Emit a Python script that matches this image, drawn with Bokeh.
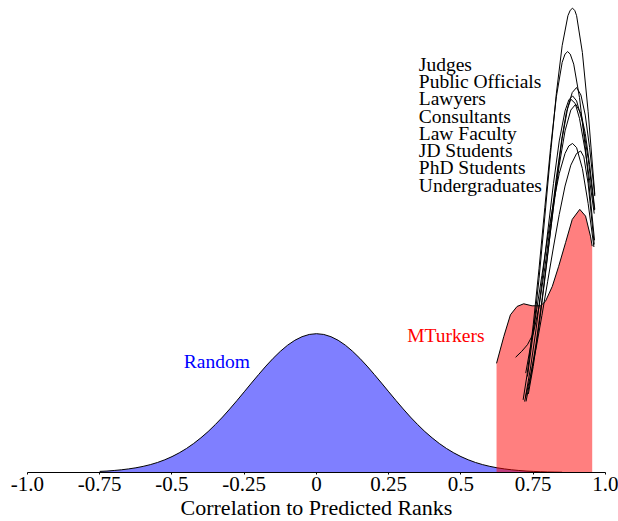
from bokeh.plotting import figure
from bokeh.models import Range1d, FixedTicker
from bokeh.embed import file_html
from bokeh.resources import INLINE
from bokeh.core.properties import value

FONT = "Liberation Serif"

# ---- data ----
tick_values = [-1.0, -0.75, -0.5, -0.25, 0.0, 0.25, 0.5, 0.75, 1.0]
tick_labels = ["-1.0", "-0.75", "-0.5", "-0.25", "0", "0.25", "0.5", "0.75", "1.0"]
x_title = "Correlation to Predicted Ranks"

random_x = [-0.75, -0.725, -0.70, -0.675, -0.65, -0.625, -0.60, -0.575, -0.55, -0.525,
            -0.50, -0.475, -0.45, -0.425, -0.40, -0.375, -0.35, -0.325, -0.30, -0.275,
            -0.25, -0.225, -0.20, -0.175, -0.15, -0.125, -0.10, -0.075, -0.05, -0.025,
            0.0, 0.025, 0.05, 0.075, 0.10, 0.125, 0.15, 0.175, 0.20, 0.225,
            0.25, 0.275, 0.30, 0.325, 0.35, 0.375, 0.40, 0.425, 0.45, 0.475,
            0.50, 0.525, 0.55, 0.575, 0.60, 0.625, 0.65, 0.675, 0.70, 0.725,
            0.75, 0.775, 0.80, 0.825, 0.85]
random_y = [0.013, 0.017, 0.024, 0.032, 0.043, 0.056, 0.073, 0.094, 0.120, 0.152,
            0.190, 0.235, 0.287, 0.347, 0.415, 0.490, 0.574, 0.664, 0.761, 0.862,
            0.966, 1.071, 1.174, 1.274, 1.367, 1.451, 1.524, 1.583, 1.626, 1.653,
            1.662, 1.653, 1.626, 1.583, 1.524, 1.451, 1.367, 1.274, 1.174, 1.071,
            0.966, 0.862, 0.761, 0.664, 0.574, 0.490, 0.415, 0.347, 0.287, 0.235,
            0.190, 0.152, 0.120, 0.094, 0.073, 0.056, 0.043, 0.032, 0.024, 0.017,
            0.013, 0.009, 0.006, 0.0045, 0.003]

mturk_x = [0.623, 0.648, 0.671, 0.694, 0.717, 0.746, 0.775, 0.792, 0.816, 0.838,
           0.862, 0.885, 0.911, 0.931, 0.948, 0.954]
mturk_y = [1.307, 1.627, 1.888, 1.988, 2.020, 1.996, 1.996, 2.048, 2.229, 2.469,
           2.754, 3.031, 3.151, 3.070, 2.830, 2.710]

group_labels = ["Judges", "Public Officials", "Lawyers", "Consultants",
                "Law Faculty", "JD Students", "PhD Students", "Undergraduates"]

judges_x = [0.730, 0.75, 0.77, 0.79, 0.81, 0.83, 0.85, 0.87, 0.878, 0.886, 0.894, 0.90, 0.92, 0.94, 0.963]
judges_y = [1.15, 1.67, 2.32, 3.06, 3.82, 4.54, 5.11, 5.47, 5.535, 5.56, 5.53, 5.47, 5.03, 4.32, 3.33]

officials_x = [0.715, 0.73, 0.75, 0.77, 0.79, 0.81, 0.83, 0.85, 0.86, 0.869, 0.878, 0.89, 0.91, 0.93, 0.962]
officials_y = [0.87, 1.20, 1.77, 2.44, 3.17, 3.89, 4.50, 4.91, 5.01, 5.04, 5.01, 4.89, 4.49, 3.90, 2.78]

lawyers_x = [0.733, 0.75, 0.77, 0.79, 0.81, 0.83, 0.85, 0.87, 0.885, 0.900, 0.915, 0.93, 0.945, 0.963]
lawyers_y = [0.94, 1.27, 1.76, 2.31, 2.90, 3.48, 4.00, 4.38, 4.55, 4.61, 4.52, 4.28, 3.89, 3.31]

consultants_x = [0.723, 0.74, 0.76, 0.78, 0.80, 0.82, 0.84, 0.86, 0.873, 0.886, 0.90, 0.92, 0.94, 0.962]
consultants_y = [0.90, 1.24, 1.72, 2.28, 2.88, 3.46, 3.97, 4.33, 4.46, 4.51, 4.45, 4.20, 3.76, 3.14]

faculty_x = [0.689, 0.71, 0.73, 0.75, 0.77, 0.79, 0.81, 0.83, 0.85, 0.865, 0.88, 0.895, 0.91, 0.93, 0.945, 0.961]
faculty_y = [1.38, 1.45, 1.53, 1.66, 1.98, 2.45, 2.98, 3.53, 4.02, 4.32, 4.47, 4.42, 4.24, 3.85, 3.50, 3.10]

jd_x = [0.725, 0.74, 0.76, 0.78, 0.80, 0.82, 0.84, 0.86, 0.88, 0.897, 0.915, 0.93, 0.945, 0.963]
jd_y = [0.85, 1.12, 1.55, 2.06, 2.62, 3.17, 3.68, 4.09, 4.34, 4.41, 4.30, 4.06, 3.69, 3.15]

phd_x = [0.724, 0.74, 0.76, 0.78, 0.80, 0.82, 0.84, 0.86, 0.873, 0.886, 0.90, 0.92, 0.94, 0.96]
phd_y = [1.19, 1.50, 1.91, 2.36, 2.82, 3.23, 3.58, 3.82, 3.91, 3.94, 3.89, 3.64, 3.22, 2.70]

undergrad_x = [0.72, 0.74, 0.76, 0.78, 0.80, 0.82, 0.84, 0.86, 0.88, 0.90, 0.914, 0.925, 0.94, 0.961]
undergrad_y = [0.85, 1.15, 1.49, 1.88, 2.29, 2.70, 3.09, 3.43, 3.68, 3.82, 3.85, 3.78, 3.46, 2.73]

group_curves = [(judges_x, judges_y), (officials_x, officials_y), (lawyers_x, lawyers_y),
                (consultants_x, consultants_y), (faculty_x, faculty_y), (jd_x, jd_y),
                (phd_x, phd_y), (undergrad_x, undergrad_y)]

# ---- figure ----
# the frame fills the page; the x axis is pinned at y = 0 and bounded to [-1, 1]
p = figure(frame_width=618, frame_height=514,
           x_range=Range1d(-1.0934, 1.045), y_range=Range1d(-0.575, 5.58),
           output_backend="svg", toolbar_location=None,
           y_axis_location=None,
           min_border_left=0, min_border_right=0, min_border_top=6, min_border_bottom=0)
p.xgrid.visible = False
p.ygrid.visible = False
p.outline_line_color = None
p.background_fill_color = "white"
p.border_fill_color = "white"

ax = p.xaxis[0]
ax.fixed_location = 0
ax.bounds = (-1.0, 1.0)
ax.ticker = FixedTicker(ticks=tick_values, minor_ticks=[])
ax.major_label_overrides = {v: l for v, l in zip(tick_values, tick_labels)}
ax.major_label_text_font = FONT
ax.major_label_text_font_size = "21px"
ax.major_label_text_color = "black"
ax.major_tick_out = 2
ax.major_tick_in = 0
ax.minor_tick_out = 0
ax.minor_tick_in = 0
ax.major_label_standoff = 3
ax.axis_line_color = "black"
ax.major_tick_line_color = "black"
ax.axis_label = x_title
ax.axis_label_text_font = FONT
ax.axis_label_text_font_size = "22px"
ax.axis_label_text_font_style = "normal"
ax.axis_label_text_color = "black"
ax.axis_label_standoff = 0

# Random distribution
p.varea(x=random_x, y1=0, y2=random_y, fill_color="blue", fill_alpha=0.5)
p.line(random_x, random_y, line_color="black", line_width=1)

# MTurkers
p.varea(x=mturk_x, y1=0, y2=mturk_y, fill_color="red", fill_alpha=0.5)
p.line(mturk_x, mturk_y, line_color="black", line_width=1)

# expert groups
for gx, gy in group_curves:
    p.line(gx, gy, line_color="black", line_width=1)

# labels
label_top = 4.886
label_step = 0.2065
p.text(x=[0.354] * len(group_labels),
       y=[label_top - i * label_step for i in range(len(group_labels))],
       text=group_labels, text_font=value(FONT), text_font_size="19.5px",
       text_align="left", text_baseline="middle", text_color="black")
p.text(x=[-0.459], y=[1.323], text=["Random"], text_font=value(FONT),
       text_font_size="19.5px", text_align="left", text_baseline="middle", text_color="blue")
p.text(x=[0.314], y=[1.642], text=["MTurkers"], text_font=value(FONT),
       text_font_size="19.5px", text_align="left", text_baseline="middle", text_color="red")

open("out.html", "w").write(file_html(p, INLINE))
